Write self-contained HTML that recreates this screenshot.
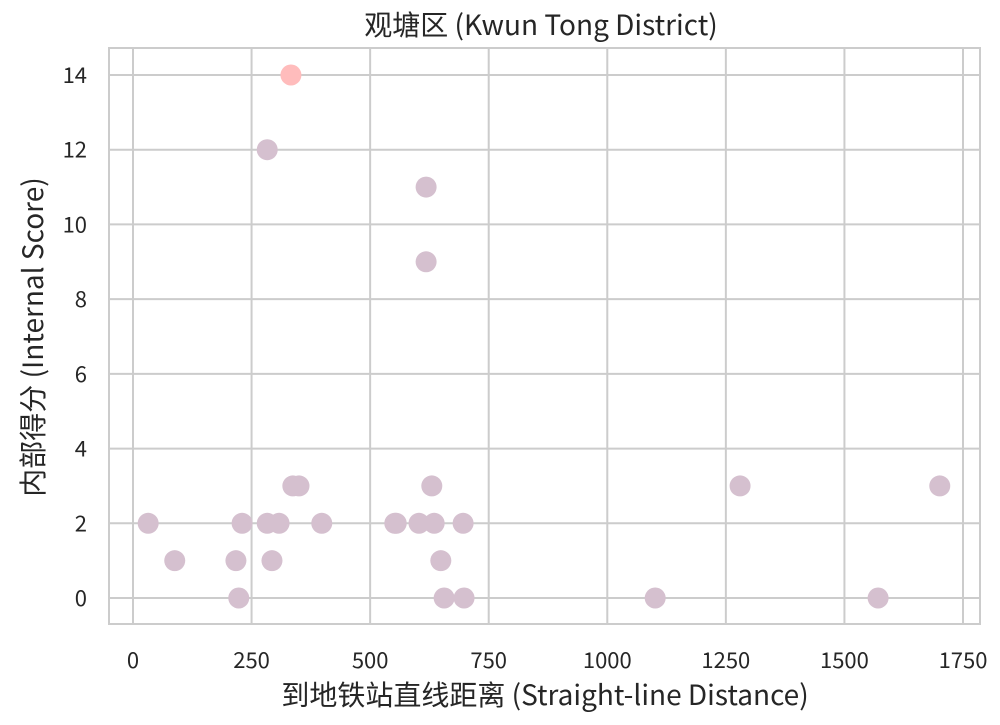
<!DOCTYPE html>
<html><head><meta charset="utf-8"><style>
body{margin:0;background:#fff;}
svg text{font-family:"Noto Sans CJK SC","Liberation Sans",sans-serif;fill:#262626;}
</style></head><body>
<svg id="chart" width="1000" height="720" xmlns="http://www.w3.org/2000/svg"></svg>
<script>
const xs=[32,88,217,223,230,283,293,308,283,333,337,350,398,552,555,603,618,618,630,635,649,656,696,698,1101,1280,1571,1701];
const ys=[2,1,1,0,2,2,1,2,12,14,3,3,2,2,2,2,11,9,3,2,1,0,2,0,0,3,0,3];
const highlight=[0,0,0,0,0,0,0,0,0,1,0,0,0,0,0,0,0,0,0,0,0,0,0,0,0,0,0,0];
const xTicks=[0,250,500,750,1000,1250,1500,1750];
const yTicks=[0,2,4,6,8,10,12,14];
const svg=document.getElementById('chart');
const NS='http://www.w3.org/2000/svg';
const L=109,R=980,T=48,B=624;
const sx=v=>133+v*(963-133)/1750;
const sy=v=>598-v*(598-75)/14;
function mk(tag,attrs,parent){const e=document.createElementNS(NS,tag);for(const k in attrs)e.setAttribute(k,attrs[k]);(parent||svg).appendChild(e);return e;}
const grid=mk('g',{});


xTicks.forEach(t=>{
  mk('line',{x1:sx(t),x2:sx(t),y1:T,y2:B,stroke:'#cccccc','stroke-width':2},grid);
  const tx=mk('text',{x:sx(t),y:668,'text-anchor':'middle','font-size':22});
  tx.textContent=t;
  
  
});
yTicks.forEach(t=>{
  mk('line',{x1:L,x2:R,y1:sy(t),y2:sy(t),stroke:'#cccccc','stroke-width':2},grid);
  const tx=mk('text',{x:87,y:sy(t)+8,'text-anchor':'end','font-size':22});
  tx.textContent=t;
  
  
});
const frame=mk('rect',{x:L,y:T,width:R-L,height:B-T,fill:'none',stroke:'#cccccc','stroke-width':2});


xs.forEach((x,i)=>{
  const c=mk('circle',{cx:sx(x),cy:sy(ys[i]),r:10.5,fill:highlight[i]?'#ffbcbc':'#d5c0cf'});
  
  
});
const title=mk('text',{x:541,y:35,'text-anchor':'middle','font-size':28});
title.textContent='观塘区 (Kwun Tong District)';


const xl=mk('text',{x:545,y:705,'text-anchor':'middle','font-size':28});
xl.textContent='到地铁站直线距离 (Straight-line Distance)';


const yl=mk('text',{x:0,y:0,'text-anchor':'middle','font-size':28,transform:'translate(43,337) rotate(-90)'});
yl.textContent='内部得分 (Internal Score)';


</script>
</body></html>
